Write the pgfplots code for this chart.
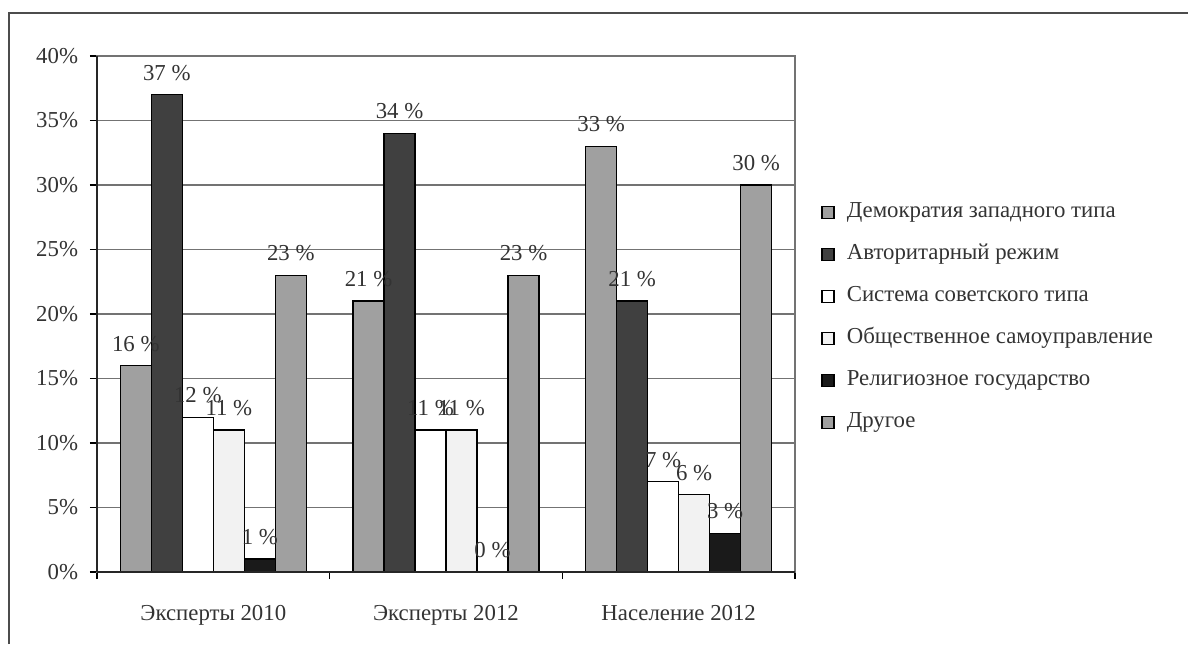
\documentclass[border=0pt]{standalone}
\usepackage{fontspec}
\setmainfont{Liberation Serif}
\usepackage{pgfplots}
\usepackage{pgfplotstable}
\pgfplotsset{compat=1.18}
\definecolor{sA}{HTML}{A0A0A0}
\definecolor{sB}{HTML}{404040}
\definecolor{sC}{HTML}{FFFFFF}
\definecolor{sD}{HTML}{F2F2F2}
\definecolor{sE}{HTML}{1A1A1A}
\definecolor{sF}{HTML}{A0A0A0}
\definecolor{txt}{HTML}{333333}
\pgfplotstableread{
x a b c d e f
0 16 37 12 11 1 23
1 21 34 11 11 0 23
2 33 21 7 6 3 30
}\data
\newcommand\cf{\fontsize{11.4}{13}\selectfont}
\begin{document}
\cf
\begin{tikzpicture}
\path[use as bounding box] (0pt,0pt) rectangle (594pt,322pt);
\draw[line width=1.3pt, color=black!70] (4.5pt,0pt) -- (4.5pt,315.5pt) -- (594pt,315.5pt);
\begin{axis}[
  at={(48.5pt,36pt)}, anchor=south west,
  scale only axis, width=349pt, height=258pt,
  xmin=-0.5, xmax=2.5, ymin=0, ymax=40,
  ybar=0pt, bar width=15.5pt,
  xtick={0,1,2},
  xticklabels={Эксперты 2010, Эксперты 2012, Население 2012},
  major x tick style={draw=none},
  minor xtick={-0.5,0.5,1.5,2.5},
  minor x tick style={black, line width=0.6pt},
  ytick={0,5,...,40},
  y tick style={black, line width=0.6pt},
  xtick pos=left, ytick pos=left,
  tick align=outside,
  major tick length=3.5pt, minor tick length=3.5pt,
  yticklabel={\pgfmathprintnumber{\tick}\%},
  /pgf/number format/assume math mode=true,
  ymajorgrids, xmajorgrids=false,
  grid style={black!55, line width=0.6pt},
  axis line style={black!55, line width=0.6pt},
  tick label style={font=\cf, text=txt},
  yticklabel style={xshift=-2pt},
  xticklabel style={yshift=-9pt},
  nodes near coords={\pgfmathprintnumber{\pgfplotspointmeta}~\%},
  every node near coord/.append style={font=\cf, text=txt, yshift=3pt},
  every axis plot/.append style={draw=black, line width=0.7pt},
  legend style={at={(1.0287,0.725)}, anchor=north west, draw=none, fill=none,
    font=\cf, text=txt, row sep=11pt,
    nodes={inner sep=0pt, text height=7.5pt, text depth=2.5pt}},
  legend cell align=left,
  legend image code/.code={\draw[#1, line width=0.7pt] (0pt,-3pt) rectangle (6pt,3pt); \path (12pt,0pt);},
  clip=false,
]
\addplot[fill=sA] table[x=x,y=a]{\data};
\addplot[fill=sB] table[x=x,y=b]{\data};
\addplot[fill=sC] table[x=x,y=c]{\data};
\addplot[fill=sD] table[x=x,y=d]{\data};
\addplot[fill=sE] table[x=x,y=e]{\data};
\addplot[fill=sF] table[x=x,y=f]{\data};
\legend{Демократия западного типа, Авторитарный режим, Система советского типа, Общественное самоуправление, Религиозное государство, Другое}
\draw[black!85, line width=0.8pt] (rel axis cs:0,0) -- (rel axis cs:0,1);
\draw[black!85, line width=0.8pt] (rel axis cs:0,0) -- (rel axis cs:1,0);
\end{axis}
\end{tikzpicture}
\end{document}
